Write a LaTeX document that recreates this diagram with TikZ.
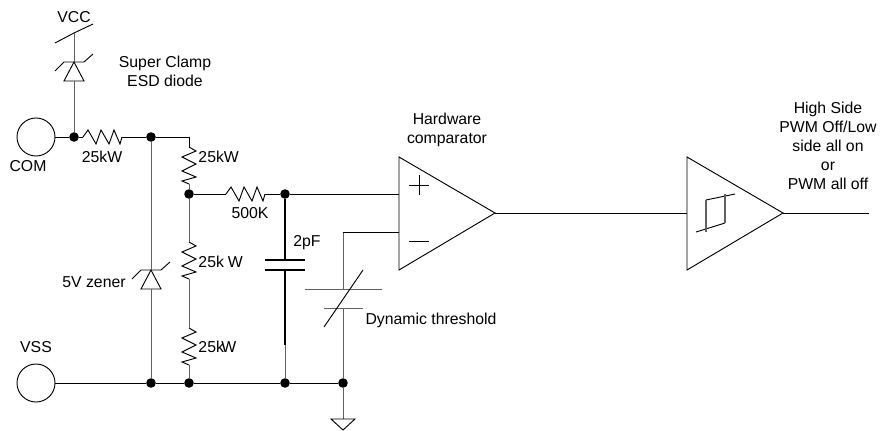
\documentclass[tikz,border=0pt]{standalone}
\usepackage{fontspec}
\setmainfont{Liberation Sans}
\usetikzlibrary{positioning}
\tikzset{
	lbl/.style={font=\fontsize{11.85pt}{14.25pt}\selectfont,inner sep=0pt,align=center},
	dot/.style={circle,fill=black,inner sep=0pt,minimum size=7.2pt},
	pad/.style={circle,draw,inner sep=0pt,outer sep=0pt,minimum size=28.5pt},
	grey/.style={draw=black!62},
	hres/.pic={
		\coordinate (-a) at (0,0);
		\coordinate (-b) at (39,0);
		\draw (-a) -- (5,-7) -- (13,7) -- (18,-7) -- (26,7) -- (31,-7) -- (37,7) -- (-b);
	},
	vres/.pic={
		\coordinate (-a) at (0,0);
		\coordinate (-b) at (0,37);
		\draw (-a) -- (7,4) -- (-7,10) -- (7,17) -- (-7,24) -- (7,30) -- (-7,34) -- (-b);
	},
	zener/.pic={
		\coordinate (-k) at (0,0);
		\coordinate (-a) at (0,19);
		\draw (-a) -- (-10,19) -- (-k) -- (10,19) -- cycle;
		\draw (-19,9) -- (-10,0) -- (10,0) -- (19,-8);
	},
	amp/.pic={
		\coordinate (-p) at (0,37);
		\coordinate (-n) at (0,75);
		\coordinate (-i) at (0,56);
		\coordinate (-o) at (96,56);
		\draw (0,0) -- (-o) -- (0,113) -- cycle;
	},
}
\begin{document}
\begin{tikzpicture}[x=0.75pt,y=-0.75pt,line width=0.7pt]
	\useasboundingbox (0,0) rectangle (880,431);

	\node[pad] (com) at (36,137) {};
	\node[pad] (vss) at (36,383) {};
	\node[dot] (j1) at (74,137) {};
	\node[dot] (j2) at (151,137) {};
	\node[dot] (j3) at (189,194) {};
	\node[dot] (j4) at (285,194) {};
	\node[dot] (j5) at (151,383) {};
	\node[dot] (j6) at (189,383) {};
	\node[dot] (j7) at (285,383) {};
	\node[dot] (j8) at (343,383) {};
	\coordinate (corner) at (343,232);
	\coordinate (out) at (869,213);
	\coordinate (gnd) at (343,419);

	\pic (r1) at (83,137) {hres};
	\pic (r2) at (189,147) {vres};
	\pic (r3) at (189,242) {vres};
	\pic (r4) at (189,328) {vres};
	\pic (r5) at (226,194) {hres};
	\pic (d1) at (74,62) {zener};
	\pic (d2) at (151,270) {zener};
	\pic (cmp) at (399,157) {amp};
	\pic (sch) at (687,157) {amp};

	% comparator signs
	\draw (409,185) -- (429,185) (419,175) -- (419,195) (409,241) -- (429,241);
	% hysteresis
	\draw (696,232) -- (725,223) (706,200) -- (735,194);
	\draw[grey,line width=1pt] (706,200) -- (706,232) (725,194) -- (725,223);

	% VCC rail
	\coordinate (vccbar) at (74,33);
	\draw (55,43) -- (vccbar) -- (93,24);
	\draw[grey] (vccbar) -- (d1-k);
	\draw[grey] (d1-a) -- (j1);

	% 2pF
	\coordinate (c1t) at (285,260);
	\coordinate (c1b) at (285,270);
	\coordinate (c1e) at (285,345);
	\draw[line width=1.1pt] (265,260) -- (305,260) (265,270) -- (305,270);
	\draw[line width=1.1pt] (j4) -- (c1t) (c1b) -- (c1e);
	\draw[grey] (c1e) -- (j7);

	% Dynamic threshold
	\coordinate (c2t) at (343,289);
	\coordinate (c2b) at (343,308);
	\draw[grey] (305,289) -- (382,289) (324,308) -- (363,308);
	\draw (324,327) -- (363,270);
	\draw[grey] (corner) -- (c2t) (c2b) -- (j8) -- (gnd);
	\draw (331,419) -- (355,419) -- (343,430) -- cycle;

	\draw 	(com) -- (j1)
			(j1) -- (r1-a)
			(r1-b) -- (j2)
			(j2) -| (r2-a)
			(j3) -- (r5-a)
			(r5-b) -- (j4)
			(j4) -- (cmp-p)
			(cmp-n) -- (corner)
			(cmp-o) -- (sch-i)
			(sch-o) -- (out)
			(vss) -- (j5)
			(j5) -- (j6)
			(j6) -- (j7)
			(j7) -- (j8);
	\draw[grey] (j2) -- (d2-k)
			(d2-a) -- (j5)
			(r2-b) -- (j3)
			(j3) -- (r3-a)
			(r3-b) -- (r4-a)
			(r4-b) -- (j6);

	\node[lbl] (vcc) at (74,17) {VCC};
	\node[lbl] (clamp) at (165,71) {Super Clamp\\ESD diode};
	\node[lbl] (comlbl) at (28,166) {COM};
	\node[lbl] (r1lbl) at (102,157) {25kW};
	\node[lbl,anchor=west] (r2lbl) at (198,157) {25kW};
	\node[lbl] (r5lbl) at (250,213) {500K};
	\node[lbl,anchor=west] (r3lbl) at (198,262) {25k\kern3pt W};
	\node[lbl,anchor=west] (r4lbl) at (198,347) {25k\kern-2pt W};
	\node[lbl] (zlbl) at (94,282) {5V zener};
	\node[lbl] (vsslbl) at (36,347) {VSS};
	\node[lbl] (c1lbl) at (307,243) {2pF};
	\node[lbl] (cmplbl) at (447,130) {Hardware\\comparator};
	\node[lbl] (dynlbl) at (431,320) {Dynamic threshold};
	\node[lbl] (outlbl) at (828,146) {High Side\\PWM Off/Low\\side all on\\or\\PWM all off};
\end{tikzpicture}
\end{document}
